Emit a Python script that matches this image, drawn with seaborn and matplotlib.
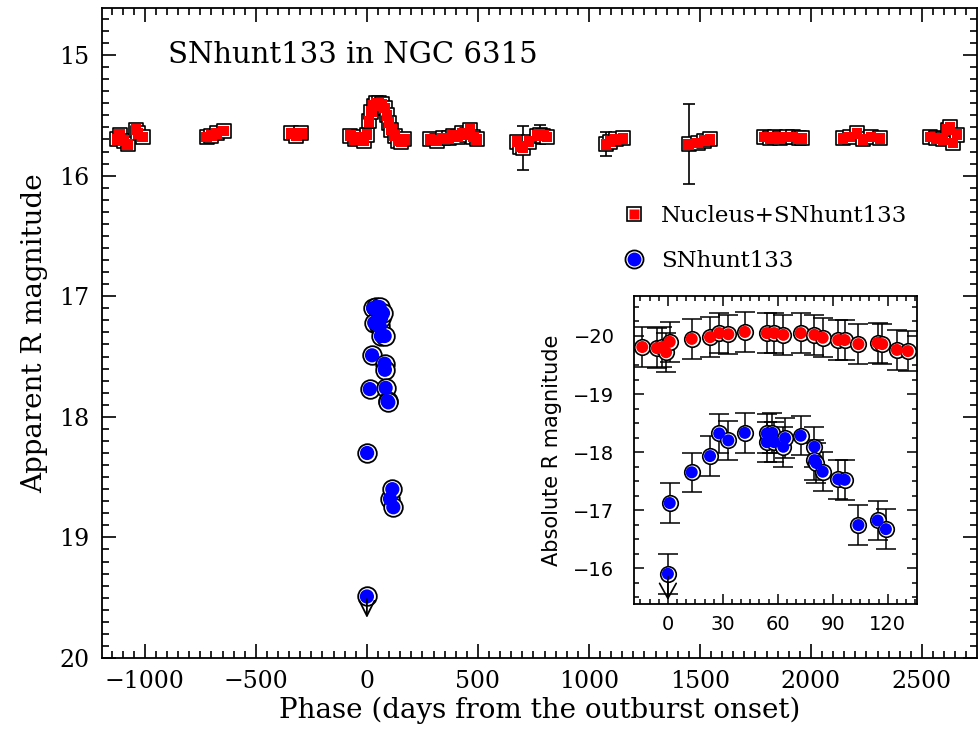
# SNhunt133 light curve with absolute-magnitude inset

import numpy as np
import pandas as pd
import matplotlib.pyplot as plt
import seaborn as sns
from matplotlib.lines import Line2D
from matplotlib.ticker import MultipleLocator

# Nucleus+SNhunt133, apparent R mag (main panel)
red_phase = [-1125, -1113, -1095, -1077, -1040, -1031, -1009,
             -721, -700, -676, -645,
             -340, -318, -295,
             -75, -55, -35, -15, 0, 10, 20, 30, 42, 55, 68, 80, 90, 100, 110, 125, 140, 155, 168,
             284, 315, 342, 370, 387, 410, 428, 450, 464, 480, 495,
             676, 690, 703, 730, 766, 779, 795, 811,
             1077, 1095, 1120, 1153,
             1450, 1490, 1520, 1545,
             1790, 1815, 1840, 1860, 1890, 1919, 1945, 1960,
             2144, 2175, 2207, 2234, 2270, 2311,
             2536, 2565, 2595, 2615, 2626, 2640, 2658]
red_mag = [15.70, 15.66, 15.71, 15.74, 15.62, 15.65, 15.68,
           15.68, 15.67, 15.65, 15.63,
           15.65, 15.67, 15.65,
           15.67, 15.70, 15.68, 15.71, 15.66, 15.55, 15.47, 15.42, 15.40, 15.40, 15.41, 15.44, 15.50,
           15.56, 15.62, 15.67, 15.71, 15.72, 15.70,
           15.70, 15.71, 15.69, 15.69, 15.67, 15.68, 15.65, 15.66, 15.62, 15.68, 15.70,
           15.72, 15.76, 15.77, 15.72, 15.67, 15.66, 15.67, 15.68,
           15.74, 15.72, 15.70, 15.69,
           15.74, 15.73, 15.71, 15.70,
           15.68, 15.69, 15.68, 15.69, 15.68, 15.68, 15.69, 15.69,
           15.69, 15.68, 15.65, 15.70, 15.68, 15.69,
           15.68, 15.69, 15.70, 15.62, 15.60, 15.73, 15.66]
red_err = [0.04, 0.04, 0.04, 0.04, 0.04, 0.04, 0.04,
           0.03, 0.03, 0.03, 0.03,
           0.04, 0.04, 0.04,
           0.04, 0.04, 0.04, 0.04, 0.04, 0.04, 0.04, 0.04, 0.04, 0.04, 0.04, 0.04, 0.04,
           0.04, 0.04, 0.04, 0.04, 0.04, 0.04,
           0.04, 0.04, 0.04, 0.04, 0.04, 0.04, 0.04, 0.04, 0.04, 0.04, 0.04,
           0.04, 0.04, 0.18, 0.04, 0.04, 0.08, 0.04, 0.04,
           0.10, 0.04, 0.04, 0.04,
           0.33, 0.04, 0.04, 0.04,
           0.04, 0.04, 0.04, 0.04, 0.04, 0.04, 0.04, 0.04,
           0.04, 0.04, 0.04, 0.04, 0.04, 0.04,
           0.05, 0.04, 0.04, 0.04, 0.05, 0.04, 0.04]

# SNhunt133 (transient), apparent R mag
sn_phase = [1, 13, 23, 28, 33, 42, 54, 54, 57, 58, 63, 64, 72.5, 80, 80, 81, 84.5, 93, 96.5, 104, 114.5, 119]
sn_mag = [18.30, 17.77, 17.49, 17.10, 17.22, 17.09, 17.25, 17.10, 17.09, 17.25, 17.33, 17.18, 17.14,
          17.33, 17.56, 17.61, 17.76, 17.87, 17.88, 18.68, 18.60, 18.75]
sn_err = [0.05, 0.04, 0.04, 0.04, 0.04, 0.04, 0.04, 0.04, 0.04, 0.04, 0.04, 0.04, 0.04,
          0.04, 0.04, 0.04, 0.04, 0.04, 0.04, 0.04, 0.04, 0.04]
lim_phase = [0]
lim_mag = [19.49]

# inset: absolute R mag
abs_sn_mag = [-17.12, -17.65, -17.93, -18.32, -18.20, -18.33, -18.17, -18.32, -18.33, -18.17, -18.09,
              -18.24, -18.28, -18.09, -17.86, -17.81, -17.66, -17.53, -17.52, -16.74, -16.82, -16.67]
abs_red_phase = [-14, -6, -3, -1, 1, 13, 23, 28, 33, 42, 54, 58, 63, 72.5, 80, 84.5, 93, 96.5, 104,
                 114.5, 117, 125, 131]
abs_red_mag = [-19.81, -19.79, -19.81, -19.72, -19.90, -19.95, -19.98, -20.05, -20.03, -20.07, -20.05,
               -20.05, -20.02, -20.05, -20.02, -19.97, -19.93, -19.93, -19.86, -19.88, -19.86, -19.76, -19.74]
abs_err = 0.34
abs_lim_phase = [0]
abs_lim_mag = [-15.90]

sns.set_theme(style="ticks")
plt.rcParams['font.family'] = ['DejaVu Serif']
plt.rcParams['axes.linewidth'] = 1.3
plt.rcParams['text.color'] = 'black'
plt.rcParams['axes.labelcolor'] = 'black'
plt.rcParams['axes.edgecolor'] = 'black'

fig = plt.figure(figsize=(9.79, 7.29), dpi=100)
ax = fig.add_axes([0.1042, 0.0974, 0.8938, 0.8916])

# main panel
ax.errorbar(red_phase, red_mag, yerr=red_err, fmt='none', ecolor='black', elinewidth=1.2,
            capsize=4, capthick=1.2, zorder=1)
ax.errorbar(sn_phase, sn_mag, yerr=sn_err, fmt='none', ecolor='black', elinewidth=1.2,
            capsize=5, capthick=1.2, zorder=1)
sns.scatterplot(x=red_phase, y=red_mag, marker='s', s=95, color='white', edgecolor='black',
                linewidth=1.2, ax=ax, zorder=2)
sns.scatterplot(x=red_phase, y=red_mag, marker='s', s=60, color='red', edgecolor='none',
                linewidth=0, ax=ax, zorder=3)
sns.scatterplot(x=sn_phase + lim_phase, y=sn_mag + lim_mag, marker='o', s=180, color='white',
                edgecolor='black', linewidth=1.3, ax=ax, zorder=4)
sns.scatterplot(x=sn_phase + lim_phase, y=sn_mag + lim_mag, marker='o', s=105, color='blue',
                edgecolor='none', linewidth=0, ax=ax, zorder=5)
for p, m in zip(lim_phase, lim_mag):
    ax.annotate('', xy=(p, m + 0.2), xytext=(p, m),
                arrowprops=dict(arrowstyle='->, head_width=0.45, head_length=0.9',
                                color='black', lw=1.3), zorder=6)

ax.set_xlim(-1193, 2748)
ax.set_ylim(20, 14.61)
ax.xaxis.set_major_locator(MultipleLocator(500))
ax.xaxis.set_minor_locator(MultipleLocator(50))
ax.yaxis.set_major_locator(MultipleLocator(1))
ax.yaxis.set_minor_locator(MultipleLocator(0.1))
ax.tick_params(which='both', direction='in', top=True, right=True, width=1.2, labelsize=17,
               colors='black')
ax.tick_params(which='major', length=10, pad=9)
ax.tick_params(which='minor', length=5)
ax.set_xlabel('Phase (days from the outburst onset)', fontsize=20, labelpad=2)
ax.set_ylabel('Apparent R magnitude', fontsize=20, labelpad=8)
ax.text(0.075, 0.928, 'SNhunt133 in NGC 6315', transform=ax.transAxes, fontsize=21,
        va='center', ha='left')

sq = (Line2D([], [], ls='none', marker='s', ms=10, mfc='white', mec='black', mew=1.2),
      Line2D([], [], ls='none', marker='s', ms=7.5, mfc='red', mec='none'))
circ = (Line2D([], [], ls='none', marker='o', ms=13, mfc='white', mec='black', mew=1.3),
        Line2D([], [], ls='none', marker='o', ms=10, mfc='blue', mec='none'))
ax.legend([sq, circ], ['Nucleus+SNhunt133', 'SNhunt133'], loc='upper left',
          bbox_to_anchor=(0.571, 0.728), frameon=False, fontsize=16.5, labelspacing=1.0,
          handlelength=1.0, handletextpad=0.7)

# inset panel
ins = fig.add_axes([0.6476, 0.1715, 0.2891, 0.4225])
ins.errorbar(abs_red_phase, abs_red_mag, yerr=abs_err, fmt='none', ecolor='black',
             elinewidth=1.1, capsize=7, capthick=1.1, zorder=1)
ins.errorbar(sn_phase + abs_lim_phase, abs_sn_mag + abs_lim_mag, yerr=abs_err, fmt='none',
             ecolor='black', elinewidth=1.1, capsize=7, capthick=1.1, zorder=1)
for xs, ys, c in [(abs_red_phase, abs_red_mag, 'red'),
                  (sn_phase + abs_lim_phase, abs_sn_mag + abs_lim_mag, 'blue')]:
    sns.scatterplot(x=xs, y=ys, marker='o', s=125, color='white', edgecolor='black',
                    linewidth=1.2, ax=ins, zorder=2)
    sns.scatterplot(x=xs, y=ys, marker='o', s=75, color=c, edgecolor='none', linewidth=0,
                    ax=ins, zorder=3)
for p, m in zip(abs_lim_phase, abs_lim_mag):
    ins.annotate('', xy=(p, m + 0.5), xytext=(p, m),
                 arrowprops=dict(arrowstyle='->, head_width=0.5, head_length=0.9',
                                 color='black', lw=1.2), zorder=4)

ins.set_xlim(-18.5, 136)
ins.set_ylim(-15.38, -20.69)
ins.xaxis.set_major_locator(MultipleLocator(30))
ins.xaxis.set_minor_locator(MultipleLocator(5))
ins.yaxis.set_major_locator(MultipleLocator(1))
ins.yaxis.set_minor_locator(MultipleLocator(0.25))
ins.tick_params(which='both', direction='in', top=True, right=True, width=1.1, labelsize=14,
                colors='black', labelfontfamily='DejaVu Sans')
ins.tick_params(which='major', length=7, pad=8)
ins.tick_params(axis='y', which='major', pad=14)
ins.tick_params(which='minor', length=3.5)
ins.set_ylabel('Absolute R magnitude', fontsize=15, family='DejaVu Sans', labelpad=8)

fig.savefig('out.png', dpi=100)
